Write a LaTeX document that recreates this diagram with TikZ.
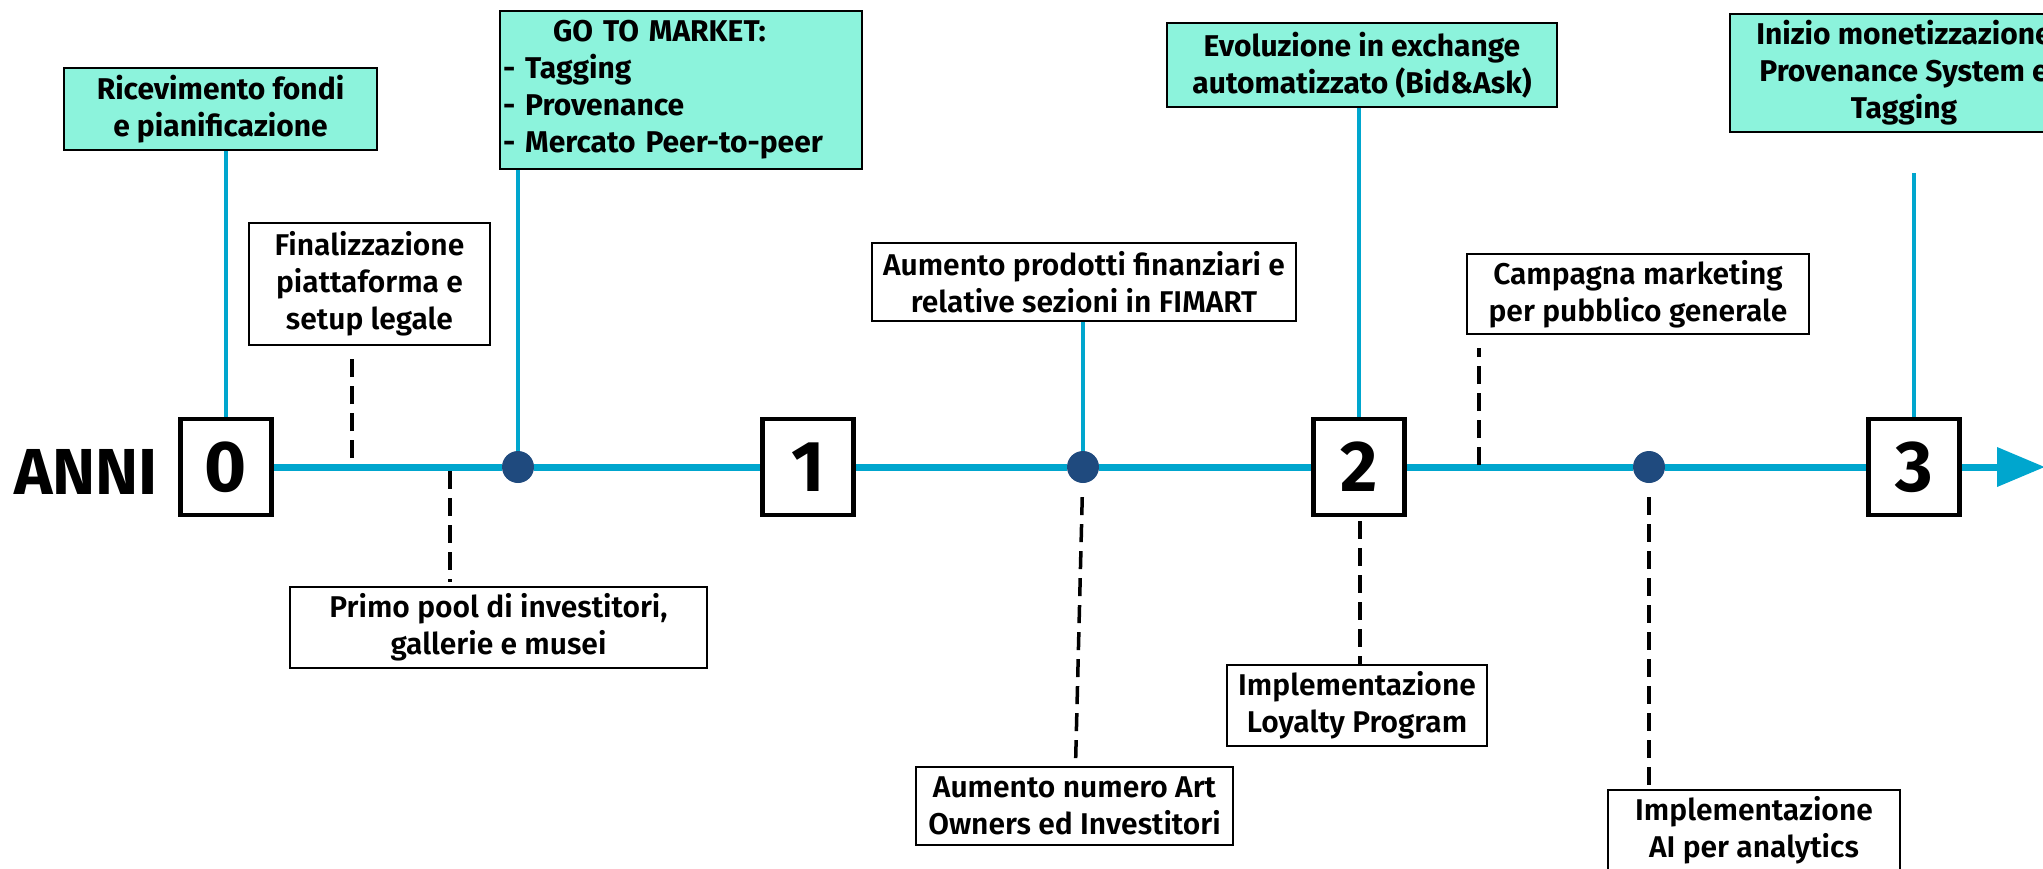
\documentclass[tikz,border=0pt]{standalone}
\usepackage{fontspec}
\setmainfont{Fira Sans}[BoldFont={Fira Sans Bold}]
\newfontfamily\semib{Fira Sans SemiBold}
\usetikzlibrary{arrows.meta}
\definecolor{linea}{RGB}{0,166,206}
\definecolor{menta}{RGB}{140,243,220}
\definecolor{blu}{RGB}{31,74,126}

\begin{document}
\begin{tikzpicture}[
	x=1pt, y=-1pt,
	every node/.style={font=\fontsize{30}{37}\selectfont\semib, inner sep=0pt, align=center},
	anno/.style={draw, line width=4.5pt, fill=white, minimum width=91pt, minimum height=96pt,
		font=\fontsize{72}{72}\selectfont\bfseries},
	evento/.style={draw, line width=2.5pt, fill=white},
	verde/.style={evento, fill=menta, font=\fontsize{30}{37}\selectfont\bfseries},
	punto/.style={circle, fill=blu, minimum size=32pt},
	asse/.style={linea, line width=7pt},
	gamba/.style={linea, line width=3.5pt},
	tratto/.style={black, line width=3.5pt, dash pattern=on 18pt off 9pt}]
\clip (0,0) rectangle (2043,868);

% anni e punti sull'asse
\node[font=\fontsize{65}{65}\selectfont\bfseries] (anni) at (86,472) {ANNI};
\node[anno] (y0) at (226,467) {0};
\node[anno] (y1) at (808,467) {1};
\node[anno] (y2) at (1359,467) {2};
\node[anno] (y3) at (1914,467) {3};
\node[punto] (d1) at (518,467) {};
\node[punto] (d2) at (1083,467) {};
\node[punto] (d3) at (1649,467) {};
\coordinate (fine) at (2045,467);

\draw[asse] (y0) -- (d1) -- (y1) -- (d2) -- (y2) -- (d3) -- (y3);
\draw[asse, -{Triangle[length=48pt,width=38pt]}] (y3) -- (fine);

% sopra
\node[verde, minimum width=313pt, minimum height=82pt] (fondi) at (220.5,109)
	{Ricevimento fondi\\e pianificazione};
\node[evento, minimum width=241pt, minimum height=122pt] (legale) at (369.5,284)
	{Finalizzazione\\piattaforma e\\setup legale};
\node[verde, minimum height=158pt, text width=356pt, inner xsep=3pt, align=left] (gtm) at (681,90)
	{\hspace*{50pt}GO TO MARKET:\\- Tagging\\- Provenance\\- Mercato Peer-to-peer};
\node[evento, minimum width=424pt, minimum height=78pt] (prodotti) at (1084,282)
	{Aumento prodotti finanziari e\\relative sezioni in FIMART};
\node[verde, minimum width=390pt, minimum height=84pt] (exchange) at (1362,65)
	{Evoluzione in exchange\\automatizzato (Bid\&Ask)};
\node[evento, minimum width=342pt, minimum height=80pt] (campagna) at (1638,294)
	{Campagna marketing\\per pubblico generale};
\node[verde, minimum width=348pt, minimum height=118pt] (monet) at (1904,73)
	{Inizio monetizzazione\\Provenance System e\\Tagging};

% sotto
\node[evento, minimum width=417pt, minimum height=81pt] (pool) at (498.5,627.5)
	{Primo pool di investitori,\\gallerie e musei};
\node[evento, minimum width=317pt, minimum height=78pt] (owners) at (1074.5,806)
	{Aumento numero Art\\Owners ed Investitori};
\node[evento, minimum width=260pt, minimum height=81pt] (loyalty) at (1357,705.5)
	{Implementazione\\Loyalty Program};
\node[evento, minimum width=292pt, minimum height=81pt] (ai) at (1754,830.5)
	{Implementazione\\AI per analytics};

% collegamenti
\draw[gamba] (y0.north) -- (y0.north |- fondi.south);
\draw[gamba] (d1) -- (d1 |- gtm.south);
\draw[gamba] (d2) -- (d2 |- prodotti.south);
\draw[gamba] (y2.north) -- (y2.north |- exchange.south);
\coordinate (m3) at (1914,173);
\draw[gamba] (y3.north) -- (m3);

\coordinate (t1) at (352,458);
\draw[tratto, shorten >=13pt] (t1) -- (t1 |- legale.south);
\coordinate (t2) at (450,471);
\draw[tratto, shorten >=4pt] (t2) -- (t2 |- pool.north);
\draw[tratto, shorten <=14pt] (d2) -- (owners);
\coordinate (t3) at (1479,465);
\draw[tratto, shorten >=13pt] (t3) -- (t3 |- campagna.south);
\coordinate (t4) at (1360,521);
\draw[tratto] (t4) -- (t4 |- loyalty.north);
\draw[tratto, shorten <=14pt] (d3) -- (d3 |- ai.north);
\end{tikzpicture}
\end{document}
